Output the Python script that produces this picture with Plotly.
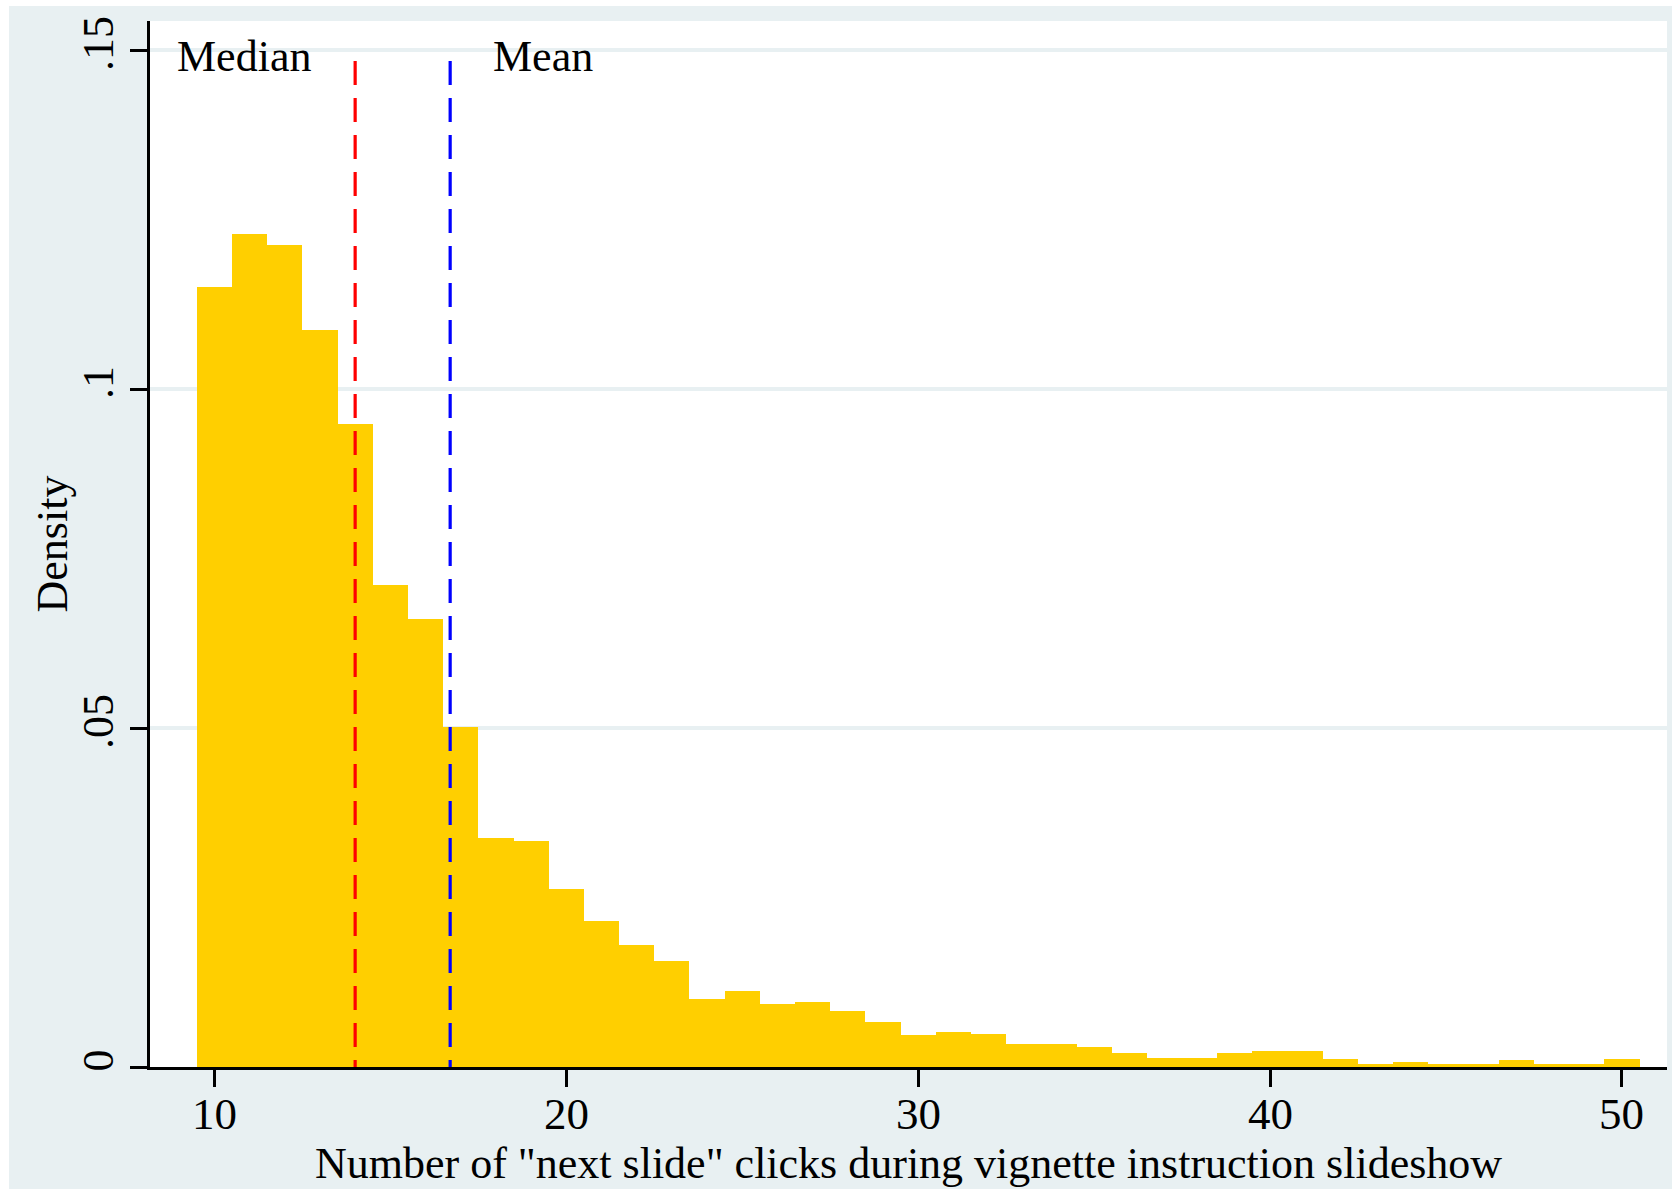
import plotly.graph_objects as go

# Histogram of "next slide" clicks (density per unit-width bin)
clicks = list(range(10, 51))
density = [
    0.1150, 0.1229, 0.1213, 0.1087, 0.0948, 0.0711, 0.0661, 0.0502, 0.0338, 0.0334,
    0.0263, 0.0215, 0.0180, 0.0156, 0.0101, 0.0112, 0.0093, 0.0096, 0.0083, 0.0066,
    0.0047, 0.0051, 0.0049, 0.0034, 0.0034, 0.0030, 0.0021, 0.0013, 0.0013, 0.0021,
    0.0023, 0.0023, 0.0012, 0.0005, 0.0008, 0.0005, 0.0005, 0.0010, 0.0004, 0.0004,
    0.0012,
]

median_clicks = 14
mean_clicks = 16.7
ref_line_top = 0.1484

x_ticks = [10, 20, 30, 40, 50]
y_ticks = [0, 0.05, 0.1, 0.15]
y_tick_labels = ["0", ".05", ".1", ".15"]

BG = "#E8F0F2"
BAR = "#FFCF00"
FONT = "Liberation Serif"

# plot-area geometry in pixels
L, R, T, B = 150, 5, 21, 122
W, H = 1672, 1189
PW = W - L - R
PH = H - T - B
AXIS_Y = H - B


def below_axis(py):
    """Paper y coordinate for a pixel row below the x axis."""
    return -(py - AXIS_Y) / PH


fig = go.Figure()

fig.add_trace(go.Bar(
    x=clicks, y=density, width=1.0,
    marker=dict(color=BAR, line=dict(width=0)),
    showlegend=False, hoverinfo="skip",
))

# median (red) and mean (blue) reference lines
for xv, col in [(median_clicks, "#FF0000"), (mean_clicks, "#0000FF")]:
    fig.add_trace(go.Scatter(
        x=[xv, xv], y=[ref_line_top, 0], mode="lines",
        line=dict(color=col, width=3.2, dash="24px,13px"),
        showlegend=False, hoverinfo="skip",
    ))

fig.add_annotation(x=8.88, y=0.1491, text="Median", showarrow=False,
                   xanchor="left", yanchor="middle",
                   font=dict(family=FONT, size=44, color="black"))
fig.add_annotation(x=17.87, y=0.1491, text="Mean", showarrow=False,
                   xanchor="left", yanchor="middle",
                   font=dict(family=FONT, size=44, color="black"))

# x tick labels, set close under the tick marks
for v in x_ticks:
    fig.add_annotation(x=v, xref="x", yref="paper", y=below_axis(1114),
                       text=str(v), showarrow=False,
                       xanchor="center", yanchor="middle",
                       font=dict(family=FONT, size=45, color="black"))

# axis titles
fig.add_annotation(xref="paper", yref="paper",
                   x=(51.5 - L) / PW, y=0.5, textangle=-90,
                   text="Density", showarrow=False,
                   xanchor="center", yanchor="middle",
                   font=dict(family=FONT, size=44, color="black"))
fig.add_annotation(xref="paper", yref="paper",
                   x=0.5, y=below_axis(1163),
                   text='Number of "next slide" clicks during vignette instruction slideshow',
                   showarrow=False, xanchor="center", yanchor="middle",
                   font=dict(family=FONT, size=44, color="black"))

# page border strips outside the graph region
fig.add_shape(type="rect", xref="paper", yref="paper", x0=-0.2, x1=1.2,
              y0=1.0 + (T - 6) / PH, y1=1.1, fillcolor="white",
              line=dict(width=0), layer="below")
fig.add_shape(type="rect", xref="paper", yref="paper",
              x0=-L / PW, x1=-(L - 9) / PW, y0=-0.2, y1=1.2,
              fillcolor="white", line=dict(width=0), layer="below")

fig.update_layout(
    width=W, height=H,
    margin=dict(l=L, r=R, t=T, b=B),
    paper_bgcolor=BG, plot_bgcolor="white",
    bargap=0,
    font=dict(family=FONT, size=44, color="black"),
    xaxis=dict(
        range=[8.17, 51.28], tickvals=x_ticks, ticks="outside", ticklen=17,
        tickwidth=2.5, tickcolor="black", showline=True, linecolor="black",
        linewidth=2.5, showgrid=False, zeroline=False, showticklabels=False,
    ),
    yaxis=dict(
        range=[0, 0.1543], tickvals=y_ticks, ticktext=y_tick_labels,
        ticks="outside", ticklen=17, tickwidth=2.5, tickcolor="black",
        showline=True, linecolor="black", linewidth=2.5,
        showgrid=True, gridcolor=BG, gridwidth=3.5, zeroline=False,
        tickangle=-90, tickfont=dict(family=FONT, size=44),
    ),
)

fig.write_html("out.html")
